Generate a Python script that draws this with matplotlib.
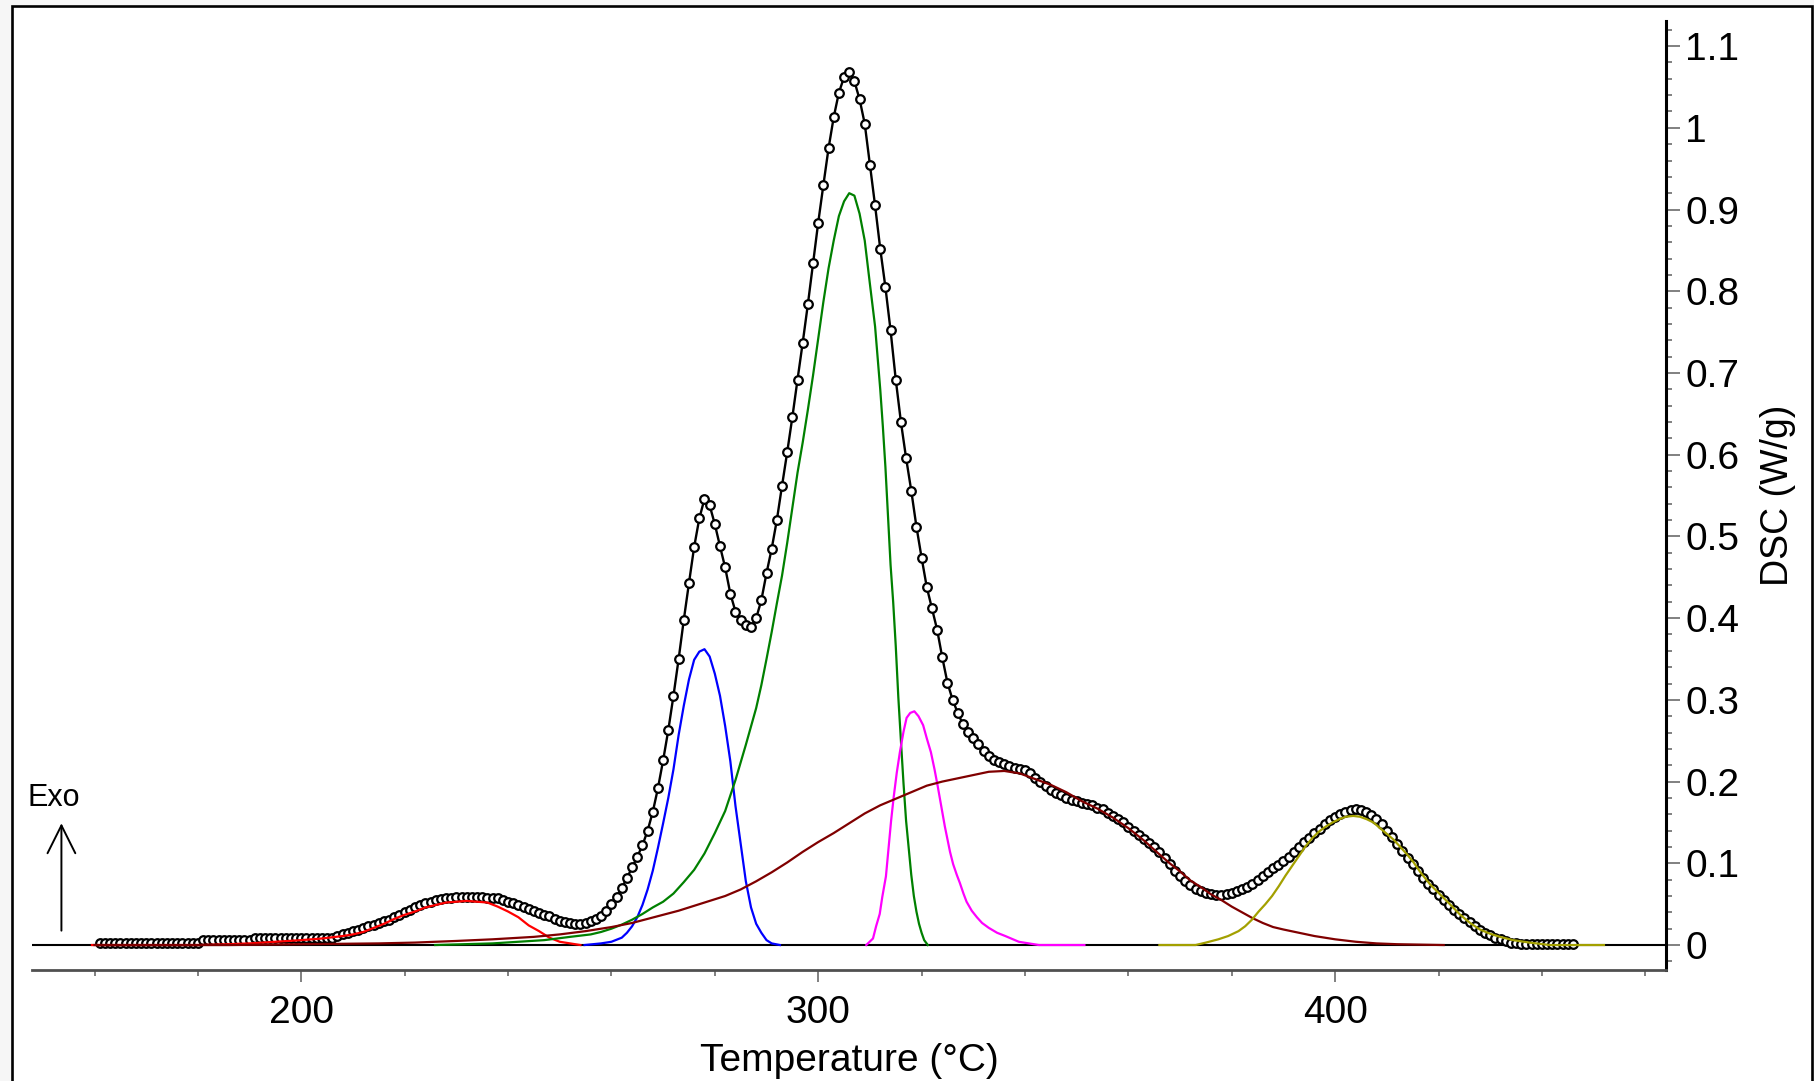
import numpy as np
import matplotlib
matplotlib.use("Agg")
import matplotlib.pyplot as plt
from matplotlib.patches import Rectangle
from matplotlib.ticker import FixedLocator, MultipleLocator, FuncFormatter

# measured DSC signal, one reading per degree (161 .. 446 C)
temp = np.arange(161, 447)
dsc = [
    0.002, 0.002, 0.002, 0.002, 0.002, 0.002, 0.002, 0.002, 0.002, 0.002,   # 161-170
    0.002, 0.002, 0.002, 0.002, 0.002, 0.002, 0.002, 0.002, 0.002, 0.002,   # 171-180
    0.006, 0.006, 0.006, 0.006, 0.006, 0.006, 0.006, 0.006, 0.006, 0.006,   # 181-190
    0.009, 0.009, 0.009, 0.009, 0.009, 0.009, 0.009, 0.009, 0.009, 0.009,   # 191-200
    0.009, 0.009, 0.009, 0.009, 0.009, 0.009, 0.011, 0.013, 0.015, 0.017,   # 201-210
    0.019, 0.021, 0.023, 0.025, 0.027, 0.029, 0.031, 0.034, 0.037, 0.040,   # 211-220
    0.043, 0.046, 0.049, 0.051, 0.053, 0.055, 0.056, 0.057, 0.058, 0.059,   # 221-230
    0.059, 0.059, 0.059, 0.059, 0.059, 0.058, 0.058, 0.057, 0.055, 0.053,   # 231-240
    0.051, 0.049, 0.047, 0.044, 0.042, 0.039, 0.037, 0.035, 0.032, 0.030,   # 241-250
    0.028, 0.027, 0.026, 0.026, 0.027, 0.029, 0.032, 0.036, 0.042, 0.050,   # 251-260
    0.059, 0.070, 0.082, 0.095, 0.108, 0.122, 0.140, 0.163, 0.192, 0.226,   # 261-270
    0.263, 0.305, 0.350, 0.398, 0.443, 0.487, 0.522, 0.546, 0.538, 0.515,   # 271-280
    0.488, 0.462, 0.430, 0.408, 0.398, 0.391, 0.389, 0.400, 0.422, 0.455,   # 281-290
    0.485, 0.520, 0.562, 0.603, 0.646, 0.692, 0.737, 0.784, 0.834, 0.884,   # 291-300
    0.930, 0.975, 1.013, 1.043, 1.062, 1.068, 1.057, 1.035, 1.005, 0.955,   # 301-310
    0.905, 0.852, 0.805, 0.752, 0.692, 0.640, 0.596, 0.556, 0.512, 0.474,   # 311-320
    0.438, 0.412, 0.386, 0.352, 0.321, 0.300, 0.284, 0.270, 0.261, 0.253,   # 321-330
    0.246, 0.238, 0.231, 0.227, 0.224, 0.222, 0.219, 0.217, 0.216, 0.214,   # 331-340
    0.210, 0.205, 0.200, 0.195, 0.190, 0.186, 0.183, 0.180, 0.178, 0.176,   # 341-350
    0.174, 0.172, 0.171, 0.168, 0.166, 0.162, 0.158, 0.154, 0.150, 0.145,   # 351-360
    0.140, 0.135, 0.130, 0.125, 0.120, 0.114, 0.107, 0.099, 0.091, 0.084,   # 361-370
    0.078, 0.073, 0.069, 0.066, 0.064, 0.062, 0.061, 0.061, 0.062, 0.064,   # 371-380
    0.066, 0.068, 0.071, 0.075, 0.079, 0.084, 0.089, 0.094, 0.098, 0.103,   # 381-390
    0.108, 0.114, 0.120, 0.126, 0.131, 0.137, 0.142, 0.148, 0.153, 0.157,   # 391-400
    0.160, 0.163, 0.165, 0.166, 0.165, 0.163, 0.159, 0.154, 0.148, 0.140,   # 401-410
    0.132, 0.124, 0.115, 0.107, 0.099, 0.090, 0.082, 0.075, 0.068, 0.061,   # 411-420
    0.055, 0.049, 0.043, 0.038, 0.033, 0.028, 0.023, 0.019, 0.015, 0.012,   # 421-430
    0.009, 0.007, 0.005, 0.003, 0.002, 0.001, 0.001, 0.001, 0.001, 0.001,   # 431-440
    0.001, 0.001, 0.001, 0.001, 0.001, 0.001,                               # 441-446
]

# fitted peak components
red_t = [159.5, 170, 180, 186, 190, 195, 200, 204, 208, 210, 212, 214, 216, 218, 220,
         222, 224, 226, 228, 230, 232, 234, 236, 238, 240, 242, 244, 246, 248, 250, 252, 254]
red_v = [0, 0, 0, 0.001, 0.002, 0.004, 0.006, 0.008, 0.011, 0.013, 0.016, 0.021, 0.026, 0.032, 0.037,
         0.041, 0.046, 0.049, 0.052, 0.053, 0.054, 0.053, 0.052, 0.047, 0.041, 0.034, 0.024, 0.017, 0.009,
         0.004, 0.002, 0]

blue_t = [254.8, 258, 260, 262, 263, 264, 265, 266, 267, 268, 269, 270, 271, 272, 273, 274, 275,
          276, 277, 278, 279, 280, 281, 282, 283, 284, 285, 286, 287, 288, 289, 290, 291, 292.6]
blue_v = [0, 0.002, 0.004, 0.009, 0.015, 0.023, 0.034, 0.049, 0.068, 0.091, 0.119, 0.149, 0.180,
          0.215, 0.257, 0.293, 0.325, 0.349, 0.359, 0.362, 0.353, 0.332, 0.305, 0.268, 0.225, 0.170,
          0.124, 0.078, 0.046, 0.026, 0.015, 0.006, 0.002, 0]

green_t = [225.9, 237, 247, 252, 256, 258, 260, 262, 264, 266, 268, 270, 272, 274, 276, 278, 280,
           282, 284, 286, 288, 289, 290, 291, 292, 293, 294, 295, 296, 297, 298, 299, 300, 301, 302,
           303, 304, 305, 306, 307, 308, 309, 310, 311, 312, 312.5, 313, 313.5, 314, 314.5, 315,
           315.5, 316, 316.5, 317, 317.5, 318, 318.5, 319, 319.5, 320, 320.5, 321.2]
green_v = [0, 0.002, 0.006, 0.010, 0.013, 0.016, 0.020, 0.025, 0.031, 0.038, 0.046, 0.053, 0.063,
           0.077, 0.092, 0.112, 0.137, 0.164, 0.202, 0.245, 0.290, 0.318, 0.350, 0.383, 0.418, 0.452,
           0.492, 0.535, 0.578, 0.615, 0.655, 0.697, 0.742, 0.787, 0.828, 0.862, 0.892, 0.910, 0.920,
           0.917, 0.895, 0.862, 0.809, 0.757, 0.680, 0.635, 0.585, 0.525, 0.465, 0.420, 0.366, 0.303,
           0.250, 0.198, 0.152, 0.119, 0.086, 0.060, 0.041, 0.026, 0.015, 0.006, 0]

magenta_t = [309.3, 310.6, 311.2, 311.9, 312.4, 313.1, 313.6, 314.1, 314.6, 315.2, 315.8, 316.5,
             317.1, 317.8, 318.6, 319.4, 320.3, 321, 321.8, 322.5, 323.1, 323.8, 324.5, 325.5,
             326.1, 326.8, 327.4, 328.1, 328.7, 329.7, 330.7, 331.7, 333, 334.6, 336.2, 338.8,
             342.7, 351.5]
magenta_v = [0, 0.008, 0.023, 0.038, 0.059, 0.084, 0.118, 0.152, 0.181, 0.211, 0.236, 0.261, 0.278,
             0.284, 0.286, 0.280, 0.269, 0.253, 0.236, 0.215, 0.195, 0.170, 0.145, 0.114, 0.099,
             0.086, 0.076, 0.063, 0.053, 0.042, 0.034, 0.027, 0.021, 0.015, 0.011, 0.004, 0, 0]

maroon_t = [160, 186, 200, 215, 222, 230, 237, 245, 250, 255, 260, 264, 267, 270, 273, 276, 279,
            282, 285, 288, 291, 294, 297, 300, 303, 306, 309, 312, 315, 318, 321, 324, 327, 330,
            333, 336, 339, 342, 345, 348, 351, 354, 357, 360, 363, 366, 368, 370, 372, 374, 376,
            378, 380, 382, 384, 386, 388, 390, 393, 396, 400, 404, 408, 412, 421]
maroon_v = [0, 0, 0.001, 0.002, 0.003, 0.005, 0.007, 0.010, 0.013, 0.017, 0.022, 0.027, 0.032,
            0.037, 0.042, 0.048, 0.054, 0.060, 0.068, 0.078, 0.089, 0.101, 0.114, 0.126, 0.137,
            0.149, 0.161, 0.171, 0.179, 0.187, 0.195, 0.200, 0.204, 0.208, 0.212, 0.213, 0.210,
            0.203, 0.196, 0.187, 0.176, 0.167, 0.156, 0.143, 0.128, 0.111, 0.100, 0.090, 0.079,
            0.071, 0.062, 0.055, 0.047, 0.040, 0.033, 0.027, 0.022, 0.019, 0.015, 0.011, 0.007,
            0.004, 0.002, 0.001, 0]

olive_t = [366, 373, 375, 377.4, 379.3, 381.3, 382.6, 383.9, 385.2, 386.5, 387.8, 389.1, 390.4,
           391.7, 393, 394.3, 395.6, 396.9, 398.2, 399.5, 400.8, 402.1, 403.5, 404.8, 406.1, 407.4,
           408.7, 410, 411.3, 412.6, 413.9, 415.2, 416.5, 418.4, 420.3, 422.2, 424.2, 426.1, 428,
           429.9, 431.9, 434.4, 437.6, 441.5, 452]
olive_v = [0, 0, 0.003, 0.007, 0.011, 0.017, 0.023, 0.031, 0.041, 0.050, 0.060, 0.072, 0.085,
           0.097, 0.109, 0.121, 0.131, 0.139, 0.145, 0.150, 0.154, 0.157, 0.158, 0.157, 0.154,
           0.150, 0.143, 0.136, 0.129, 0.120, 0.111, 0.101, 0.089, 0.074, 0.062, 0.050, 0.037,
           0.027, 0.019, 0.014, 0.010, 0.006, 0.003, 0, 0]

components = [
    (red_t, red_v, "#ff0000"),
    (blue_t, blue_v, "#0000ff"),
    (green_t, green_v, "#008000"),
    (magenta_t, magenta_v, "#ff00ff"),
    (maroon_t, maroon_v, "#800000"),
    (olive_t, olive_v, "#a3a000"),
]

plt.rcParams["font.family"] = ["Liberation Sans", "DejaVu Sans"]
plt.rcParams["font.size"] = 28

fig = plt.figure(figsize=(18.14, 10.81), dpi=100)
fig.patch.set_facecolor("#f6f6f6")
# white panel with black frame (bottom edge runs off the picture)
fig.add_artist(Rectangle((11.5 / 1814, -0.05), 1800.5 / 1814, 1.05 - 6.2 / 1081,
                         transform=fig.transFigure, facecolor="white",
                         edgecolor="black", lw=1.9, zorder=-1))

ax = fig.add_axes([0.0179, 0.1031, 0.9005, 0.8777])
ax.patch.set_visible(False)

ax.axhline(0, color="black", lw=1.5, zorder=1)
ax.plot(temp, dsc, color="black", lw=1.7, marker="o", ms=6.2, mfc="white",
        mec="black", mew=1.6, zorder=2)
for t, v, c in components:
    ax.plot(t, v, color=c, lw=1.6, zorder=3)

ax.set_xlim(148, 464)
ax.set_ylim(-0.030, 1.131)

for s in ["top", "left"]:
    ax.spines[s].set_visible(False)
ax.spines["right"].set_color("black")
ax.spines["right"].set_linewidth(2.2)
ax.spines["bottom"].set_color("#505050")
ax.spines["bottom"].set_linewidth(2.0)

ax.xaxis.set_major_locator(FixedLocator([200, 300, 400]))
ax.xaxis.set_minor_locator(MultipleLocator(20))
ax.yaxis.set_major_locator(MultipleLocator(0.1))
ax.yaxis.set_minor_locator(MultipleLocator(0.02))
ax.yaxis.set_major_formatter(FuncFormatter(lambda v, p: f"{v:.1f}".rstrip("0").rstrip(".")))

ax.yaxis.tick_right()
ax.tick_params(axis="x", which="major", direction="out", length=8.6, width=1.4,
               color="#808080", pad=10)
ax.tick_params(axis="x", which="minor", direction="out", length=4.3, width=1.4,
               color="#808080")
ax.tick_params(axis="y", which="major", direction="out", length=10.4, width=1.4,
               color="#808080", pad=3.5, left=False, right=True)
ax.tick_params(axis="y", which="minor", direction="out", length=4.3, width=1.4,
               color="#808080", left=False, right=True)

ax.set_xlabel("Temperature (°C)", fontsize=28)
ax.xaxis.set_label_coords(0.5, -0.0775)
ax.yaxis.set_label_position("right")
ax.set_ylabel("DSC (W/g)", fontsize=27)
ax.yaxis.set_label_coords(1.0576, 0.5)

ax.text(147.0, 0.170, "Exo", fontsize=22, ha="left", va="baseline", clip_on=False)
ax.annotate("", xy=(153.6, 0.149), xytext=(153.6, 0.0176),
            arrowprops=dict(arrowstyle="->,head_length=0.4,head_width=0.2", lw=1.4,
                            color="black", mutation_scale=50, shrinkA=0, shrinkB=0),
            annotation_clip=False)

fig.savefig("out.png", dpi=100, facecolor=fig.get_facecolor())
